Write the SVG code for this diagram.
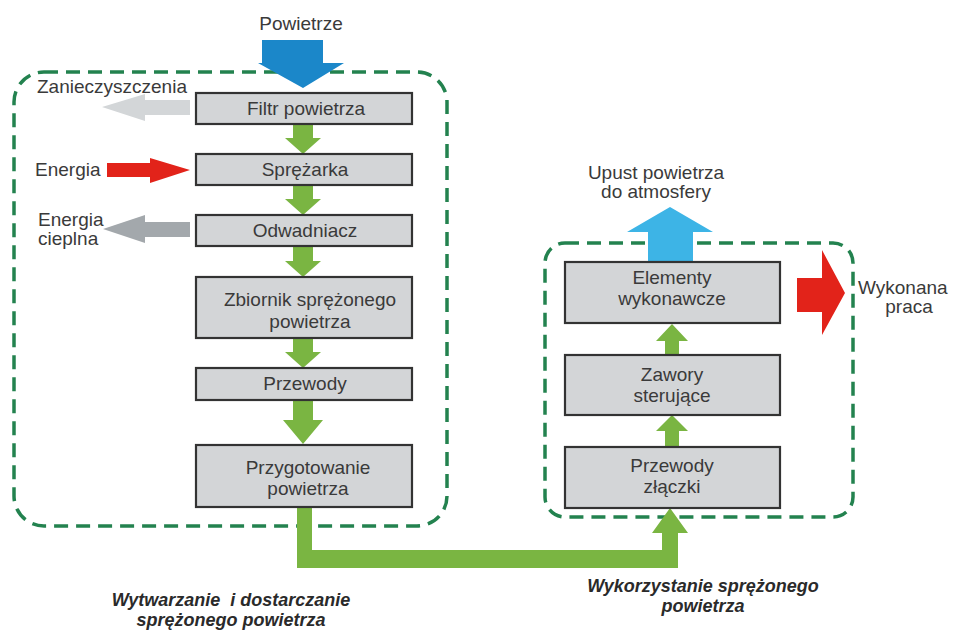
<svg xmlns="http://www.w3.org/2000/svg" width="955" height="632" viewBox="0 0 955 632">
<style>
.bg{fill:#ffffff}
.box{fill:#d3d5d7;stroke:#333333;stroke-width:2.2}
.grp{fill:none;stroke:#23824f;stroke-width:3.5;stroke-dasharray:14 8}
.t{font-family:"Liberation Sans",Arial,sans-serif;font-size:19px;fill:#3a3a3a;text-anchor:middle}
.tl{font-family:"Liberation Sans",Arial,sans-serif;font-size:19px;fill:#3a3a3a}
.cap{font-family:"Liberation Sans",Arial,sans-serif;font-size:18px;font-weight:bold;font-style:italic;fill:#2a2a2a;text-anchor:middle}
.g{fill:#7ab542}
</style>
<rect class="bg" x="0" y="0" width="955" height="632"/>
<g id="groups">
<rect id="group-left" class="grp" x="14" y="72" width="433" height="454" rx="30"/>
<rect id="group-right" class="grp" x="545" y="243" width="308" height="274" rx="20"/>
</g>
<g id="connectors">
<polygon class="g" points="293,124 313,124 313,138 321,138 303,154 285,138 293,138"/>
<polygon class="g" points="293,185 313,185 313,199 321,199 303,215 285,199 293,199"/>
<polygon class="g" points="293,246 313,246 313,261 321,261 303,277 285,261 293,261"/>
<polygon class="g" points="293,338 313,338 313,352 321,352 303,368 285,352 293,352"/>
<polygon class="g" points="293,400 313,400 313,420 323,420 303,444 283,420 293,420"/>
<polygon class="g" points="297,507 312,507 312,550 662,550 662,533 652,533 670,508 688,533 678,533 678,568 297,568"/>
<polygon class="g" points="665,447 679,447 679,431 688,431 672,415 656,431 665,431"/>
<polygon class="g" points="665,355 679,355 679,341 688,341 672,324 656,341 665,341"/>
<polygon fill="#1b87c9" points="262,40 323,40 323,63 344,63 303,88 258,63 262,63"/>
<polygon fill="#3db4e6" points="648,262 693,262 693,232 713,232 670,207 627,232 648,232"/>
<polygon fill="#e2231a" points="797,278 822,278 822,250 845,293 822,335 822,312 797,312"/>
<polygon fill="#d3d6d8" points="190,100 190,115 145,115 145,121 102,107 145,94 145,100"/>
<polygon fill="#e2231a" points="107,163 150,163 150,158 190,170 150,183 150,177 107,177"/>
<polygon fill="#a3a8ac" points="190,222 190,237 145,237 145,243 103,229 145,215 145,222"/>
</g>
<g id="n-filtr"><rect class="box" x="196" y="93" width="216" height="31"/><text class="t" x="306" y="115">Filtr powietrza</text></g>
<g id="n-sprezarka"><rect class="box" x="196" y="154" width="216" height="31"/><text class="t" x="305" y="176">Sprężarka</text></g>
<g id="n-odwadniacz"><rect class="box" x="196" y="215" width="216" height="31"/><text class="t" x="305" y="237">Odwadniacz</text></g>
<g id="n-zbiornik"><rect class="box" x="196" y="277" width="216" height="61"/><text class="t" x="310" y="306">Zbiornik sprężonego</text><text class="t" x="310" y="328">powietrza</text></g>
<g id="n-przewody"><rect class="box" x="196" y="368" width="216" height="32"/><text class="t" x="305" y="390">Przewody</text></g>
<g id="n-przygotowanie"><rect class="box" x="196" y="445" width="216" height="62"/><text class="t" x="308" y="474">Przygotowanie</text><text class="t" x="308" y="495">powietrza</text></g>
<g id="n-elementy"><rect class="box" x="565" y="262" width="215" height="61"/><text class="t" x="672" y="284">Elementy</text><text class="t" x="672" y="305">wykonawcze</text></g>
<g id="n-zawory"><rect class="box" x="565" y="355" width="215" height="60"/><text class="t" x="672" y="381">Zawory</text><text class="t" x="672" y="402">sterujące</text></g>
<g id="n-przewody-zlaczki"><rect class="box" x="565" y="447" width="215" height="61"/><text class="t" x="672" y="472">Przewody</text><text class="t" x="672" y="493">złączki</text></g>
<g id="labels">
<text class="t" x="301" y="30">Powietrze</text>
<text class="tl" x="37" y="93">Zanieczyszczenia</text>
<text class="tl" x="35" y="176">Energia</text>
<text class="tl" x="38" y="226">Energia</text>
<text class="tl" x="38" y="245">cieplna</text>
<text class="t" x="656" y="179">Upust powietrza</text>
<text class="t" x="656" y="198">do atmosfery</text>
<text class="tl" x="858" y="294">Wykonana</text>
<text class="t" x="909" y="313">praca</text>
<text class="cap" x="231" y="606" xml:space="preserve">Wytwarzanie  i dostarczanie</text>
<text class="cap" x="231" y="626">sprężonego powietrza</text>
<text class="cap" x="703" y="592">Wykorzystanie sprężonego</text>
<text class="cap" x="703" y="612">powietrza</text>
</g>
</svg>
